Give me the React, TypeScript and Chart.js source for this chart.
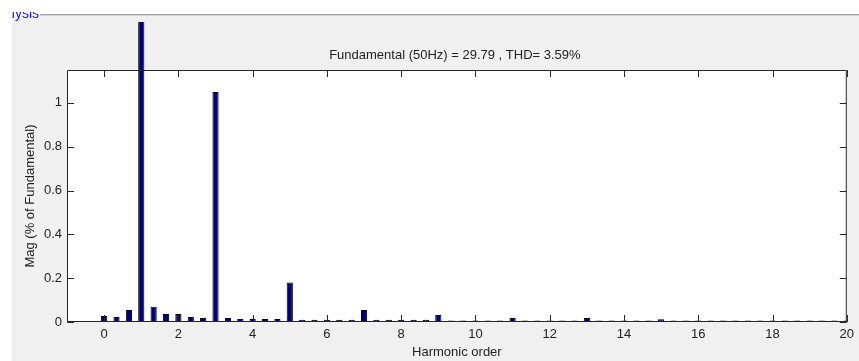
import React, { useEffect, useRef } from "react";
import { Chart, registerables } from "chart.js";

Chart.register(...registerables);

// Harmonic spectrum: one bin every 1/3 of a harmonic order (0 .. 20)
const binsPerHarmonic = 3;
const magnitudes: number[] = [
  0.027, 0.023, 0.055, // 0, 1/3, 2/3
  100, 0.07, 0.037, // 1 ...
  0.037, 0.023, 0.018, // 2 ...
  1.05, 0.018, 0.014, // 3 ...
  0.014, 0.014, 0.014, // 4 ...
  0.18, 0.01, 0.01, // 5 ...
  0.01, 0.01, 0.01, // 6 ...
  0.055, 0.01, 0.01, // 7 ...
  0.01, 0.01, 0.01, // 8 ...
  0.032, 0.007, 0.007, // 9 ...
  0.007, 0.007, 0.007, // 10 ...
  0.018, 0.007, 0.007, // 11 ...
  0.007, 0.007, 0.007, // 12 ...
  0.018, 0.007, 0.007, // 13 ...
  0.007, 0.007, 0.007, // 14 ...
  0.012, 0.007, 0.007, // 15 ...
  0.007, 0.007, 0.007, // 16 ...
  0.007, 0.007, 0.007, // 17 ...
  0.007, 0.007, 0.007, // 18 ...
  0.007, 0.007, 0.007, // 19 ...
  0.007, // 20
];
const harmonicOrders: number[] = magnitudes.map((_, i) => i / binsPerHarmonic);

const xTickValues: number[] = [0, 2, 4, 6, 8, 10, 12, 14, 16, 18, 20];
const yTickValues: number[] = [0, 0.2, 0.4, 0.6, 0.8, 1];
const xRange = { min: -1, max: 20 };
const yRange = { min: 0, max: 1.15 };

const titleText = "Fundamental (50Hz) = 29.79 , THD= 3.59%";
const xTitle = "Harmonic order";
const yTitle = "Mag (% of Fundamental)";
const panelTitle = "Analysis";

const FONT = "'Liberation Sans', Arial, sans-serif";
const FS = 13;

const decorPlugin = {
  id: "decor",
  beforeDraw(chart: any) {
    const { ctx, chartArea } = chart;
    const w = chart.width;
    const h = chart.height;
    ctx.save();
    ctx.fillStyle = "#ffffff";
    ctx.fillRect(0, 0, w, h);
    ctx.fillStyle = "#f0f0f0";
    ctx.fillRect(12, 15, w - 12, h - 15);
    // group box line
    ctx.fillStyle = "#a0a0a0";
    ctx.fillRect(40, 14, w - 40, 1);
    ctx.fillStyle = "#d8d8d8";
    ctx.fillRect(40, 15, w - 40, 1);
    // clipped panel title
    ctx.save();
    ctx.beginPath();
    ctx.rect(12, 12, 30, 12);
    ctx.clip();
    ctx.fillStyle = "#1a1adc";
    ctx.font = `14px ${FONT}`;
    ctx.textAlign = "right";
    ctx.textBaseline = "alphabetic";
    ctx.fillText(panelTitle, 39, 18);
    ctx.restore();
    // plot area
    ctx.fillStyle = "#ffffff";
    ctx.fillRect(chartArea.left, chartArea.top, chartArea.right - chartArea.left, chartArea.bottom - chartArea.top);
    ctx.restore();
  },
  afterDatasetsDraw(chart: any) {
    const { ctx, chartArea, scales } = chart;
    const { left, right, top, bottom } = chartArea;
    ctx.save();
    ctx.strokeStyle = "#262626";
    ctx.lineWidth = 1;
    ctx.beginPath();
    ctx.rect(left + 0.5, top + 0.5, right - left - 1, bottom - top - 1);
    ctx.stroke();
    const tl = 7;
    ctx.beginPath();
    xTickValues.forEach((v) => {
      const px = Math.round(scales.x.getPixelForValue(v)) + 0.5;
      ctx.moveTo(px, bottom);
      ctx.lineTo(px, bottom - tl);
      ctx.moveTo(px, top);
      ctx.lineTo(px, top + tl);
    });
    yTickValues.forEach((v) => {
      const py = Math.round(scales.y.getPixelForValue(v)) + 0.5;
      ctx.moveTo(left, py);
      ctx.lineTo(left + tl, py);
      ctx.moveTo(right, py);
      ctx.lineTo(right - tl, py);
    });
    ctx.stroke();
    // title
    ctx.fillStyle = "#222222";
    ctx.font = `${FS}px ${FONT}`;
    ctx.textAlign = "center";
    ctx.textBaseline = "middle";
    ctx.fillText(titleText, (left + right) / 2 - 2, 55);
    ctx.restore();
  },
};

export default function App() {
  const canvasRef = useRef<HTMLCanvasElement | null>(null);

  useEffect(() => {
    document.body.style.margin = "0";
    const canvas = canvasRef.current;
    if (!canvas) return;
    Chart.defaults.font.family = FONT;
    const chart = new Chart(canvas, {
      type: "bar",
      data: {
        datasets: [
          {
            data: harmonicOrders.map((x, i) => ({ x, y: magnitudes[i] })),
            backgroundColor: "#00007f",
            borderColor: "#000000",
            borderWidth: 1,
            barPercentage: 1,
            categoryPercentage: 0.5,
            clip: { left: 0, top: 48, right: 0, bottom: 0 },
          } as any,
        ],
      },
      options: {
        animation: false,
        responsive: false,
        events: [],
        layout: { padding: { top: 70, right: 6, left: 0, bottom: 0 } },
        plugins: {
          legend: { display: false },
          tooltip: { enabled: false },
          title: { display: false },
        },
        scales: {
          x: {
            type: "linear",
            offset: false,
            min: xRange.min,
            max: xRange.max,
            grid: { display: false, drawTicks: false, offset: false },
            border: { display: false },
            afterBuildTicks: (scale: any) => {
              scale.ticks = xTickValues.map((value) => ({ value }));
            },
            afterFit: (scale: any) => {
              scale.height = 39;
            },
            ticks: {
              padding: 5,
              color: "#222222",
              font: { size: FS, family: FONT },
              maxRotation: 0,
              autoSkip: false,
              callback: (v: any) => String(v),
            },
            title: {
              display: true,
              text: xTitle,
              color: "#222222",
              font: { size: FS, family: FONT },
              padding: { top: 0, bottom: 1 },
            },
          },
          y: {
            type: "linear",
            min: yRange.min,
            max: yRange.max,
            grid: { display: false, drawTicks: false },
            border: { display: false },
            afterBuildTicks: (scale: any) => {
              scale.ticks = yTickValues.map((value) => ({ value }));
            },
            afterFit: (scale: any) => {
              scale.width = 67;
            },
            ticks: {
              padding: 5,
              color: "#222222",
              font: { size: FS, family: FONT },
              autoSkip: false,
              callback: (v: any) => String(Math.round(Number(v) * 10) / 10),
            },
            title: {
              display: true,
              text: yTitle,
              color: "#222222",
              font: { size: FS, family: FONT },
              padding: { top: 23, bottom: 0 },
            },
          },
        },
      },
      plugins: [decorPlugin],
    });
    return () => chart.destroy();
  }, []);

  return (
    <div style={{ width: 859, height: 361, position: "relative" }}>
      <canvas ref={canvasRef} width={859} height={361} style={{ display: "block", width: 859, height: 361 }} />
    </div>
  );
}
